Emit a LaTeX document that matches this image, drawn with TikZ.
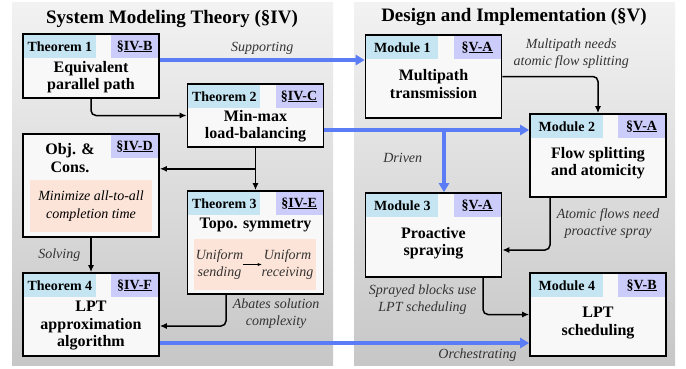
\documentclass[tikz,border=0pt]{standalone}
\usepackage{fontspec}
\setmainfont{Liberation Serif}
\usetikzlibrary{arrows.meta, positioning}
\definecolor{tagcyan}{RGB}{197, 229, 242}
\definecolor{taglav}{RGB}{204, 204, 250}
\definecolor{notepink}{RGB}{252, 228, 216}
\definecolor{flowblue}{RGB}{90, 124, 244}
\definecolor{boxwhite}{RGB}{248, 248, 248}

\begin{document}
\begin{tikzpicture}[x=1pt, y=-1pt,
    panel/.style={rectangle, inner sep=0pt, top color=black!5, bottom color=black!22,
                  minimum width=321pt, minimum height=363pt},
    heading/.style={inner sep=0pt, font=\fontsize{19}{22}\selectfont\bfseries},
    block/.style={rectangle, draw=black, line width=1.6pt, fill=boxwhite,
                  minimum width=136pt, inner sep=0pt},
    tag/.style={rectangle, fill=tagcyan, minimum width=72pt, minimum height=23pt,
                inner sep=0pt, font=\fontsize{14}{16}\selectfont\bfseries},
    sec/.style={rectangle, fill=taglav, minimum width=47pt, minimum height=23pt,
                inner sep=0pt, font=\fontsize{14}{16}\selectfont\bfseries},
    body/.style={align=center, inner sep=0pt, font=\fontsize{16}{17.5}\selectfont\bfseries},
    note/.style={rectangle, fill=notepink, inner sep=0pt, align=center,
                 font=\fontsize{14}{18.5}\selectfont\itshape},
    hint/.style={align=center, inner sep=0pt, text=black!80,
                 font=\fontsize{14}{17}\selectfont\itshape},
    link/.style={-{Latex[length=7pt, width=6pt]}, line width=1.5pt, rounded corners=5pt},
    flow/.style={-{Triangle[length=9pt, width=10pt]}, line width=3.6pt, flowblue}
]
\useasboundingbox (0,0) rectangle (686,368);

% panels
\node[panel] (lpanel) at (172.5,183.5) {};
\node[panel] (rpanel) at (514.5,183.5) {};
\node[heading] (ltitle) at (172,19) {System Modeling Theory (§IV)};
\node[heading] (rtitle) at (514,17) {Design and Implementation (§V)};

% theory side
\node[block, minimum height=64pt] (thm1) at (91,66) {};
\node[tag, below right=1.5pt and 1.5pt of thm1.north west] (thm1tag) {Theorem 1};
\node[sec, below left=1.5pt and 1.5pt of thm1.north east] (thm1sec) {§\underline{IV-B}};
\node[body] (thm1txt) at (91,77) {Equivalent\\parallel path};

\node[block, minimum height=63pt] (thm2) at (255.5,115.5) {};
\node[tag, below right=1.5pt and 1.5pt of thm2.north west] (thm2tag) {Theorem 2};
\node[sec, below left=1.5pt and 1.5pt of thm2.north east] (thm2sec) {§\underline{IV-C}};
\node[body] (thm2txt) at (255.5,126) {Min-max\\load-balancing};

\node[block, minimum height=103pt] (obj) at (91,185.5) {};
\node[sec, below left=1.5pt and 1.5pt of obj.north east] (objsec) {§\underline{IV-D}};
\node[body] (objtxt) at (70,158) {Obj. \&\\Cons.};
\node[note, minimum width=122pt, minimum height=52pt] (objnote) at (91,206)
    {Minimize all-to-all\\completion time};

\node[block, minimum height=103pt] (thm3) at (255.5,242.5) {};
\node[tag, below right=1.5pt and 1.5pt of thm3.north west] (thm3tag) {Theorem 3};
\node[sec, below left=1.5pt and 1.5pt of thm3.north east] (thm3sec) {§\underline{IV-E}};
\node[body] (thm3txt) at (255.5,225) {Topo. symmetry};
\node[note, minimum width=122pt, minimum height=51pt] (symnote) at (255,264.5) {};
\node[note, text=black!80, font=\fontsize{14}{17}\selectfont\itshape] (uni1) at (219.5,264.5) {Uniform\\sending};
\node[note, text=black!80, font=\fontsize{14}{17}\selectfont\itshape] (uni2) at (287.5,264.5) {Uniform\\receiving};
\draw[-{Stealth[length=4pt, width=3pt]}, line width=0.5pt] (uni1.east) -- (uni2.west);

\node[block, minimum height=83pt] (thm4) at (91,314.5) {};
\node[tag, below right=1.5pt and 1.5pt of thm4.north west] (thm4tag) {Theorem 4};
\node[sec, below left=1.5pt and 1.5pt of thm4.north east] (thm4sec) {§\underline{IV-F}};
\node[body] (thm4txt) at (91,326) {LPT\\approximation\\algorithm};

% design side
\node[block, minimum height=83pt] (mod1) at (433.5,76.5) {};
\node[tag, below right=1.5pt and 1.5pt of mod1.north west] (mod1tag) {Module 1};
\node[sec, below left=1.5pt and 1.5pt of mod1.north east] (mod1sec) {§\underline{V-A}};
\node[body] (mod1txt) at (433.5,84) {Multipath\\transmission};

\node[block, minimum height=83pt] (mod2) at (598,155.5) {};
\node[tag, below right=1.5pt and 1.5pt of mod2.north west] (mod2tag) {Module 2};
\node[sec, below left=1.5pt and 1.5pt of mod2.north east] (mod2sec) {§\underline{V-A}};
\node[body] (mod2txt) at (598,163) {Flow splitting\\and atomicity};

\node[block, minimum height=84pt] (mod3) at (433.5,235) {};
\node[tag, below right=1.5pt and 1.5pt of mod3.north west] (mod3tag) {Module 3};
\node[sec, below left=1.5pt and 1.5pt of mod3.north east] (mod3sec) {§\underline{V-A}};
\node[body] (mod3txt) at (433.5,243) {Proactive\\spraying};

\node[block, minimum height=83pt] (mod4) at (598,314.5) {};
\node[tag, below right=1.5pt and 1.5pt of mod4.north west] (mod4tag) {Module 4};
\node[sec, below left=1.5pt and 1.5pt of mod4.north east] (mod4sec) {§\underline{V-B}};
\node[body] (mod4txt) at (598,323) {LPT\\scheduling};

% theory links
\draw[link] (thm1.south) |- (thm2.west);
\draw[link] (thm2.south) -- (thm3.north);
\coordinate[below=21pt of thm2.south] (split);
\draw[link] (split) -- (split -| obj.east);
\draw[link] (obj.south) -- (thm4.north)
    node[hint, midway, left=10pt] {Solving};
\draw[link] ([xshift=-29.5pt]thm3.south) |- ([yshift=-11.5pt]thm4.east)
    node[hint, pos=0.3, right=6pt] {Abates solution\\complexity};

% design links
\draw[link] (mod1.east) -| (mod2.north)
    node[hint, pos=0.36, above=7pt] {Multipath needs\\atomic flow splitting};
\draw[link] ([xshift=-48pt]mod2.south) |- ([yshift=-15pt]mod3.east)
    node[hint, pos=0.25, right=6pt] {Atomic flows need\\proactive spray};
\draw[link] ([xshift=49.5pt]mod3.south) |- (mod4.west)
    node[hint, pos=0.3, left=6pt] {Sprayed blocks use\\LPT scheduling};

% cross-panel flows
\draw[flow] ([yshift=6pt]thm1.east) -- ([yshift=6pt]thm1.east -| mod1.west)
    node[hint, midway, above=4pt] {Supporting};
\draw[flow] ([yshift=-14.5pt]thm2.east) -- ([yshift=-14.5pt]thm2.east -| mod2.west);
\coordinate (drive) at (444,130);
\draw[flow] (drive) -- (drive |- mod3.north)
    node[hint, pos=0.45, left=20pt] {Driven};
\draw[flow] ([yshift=-28.5pt]thm4.east) -- ([yshift=-28.5pt]thm4.east -| mod4.west)
    node[hint, pos=0.86, below=4pt] {Orchestrating};

\end{tikzpicture}
\end{document}
